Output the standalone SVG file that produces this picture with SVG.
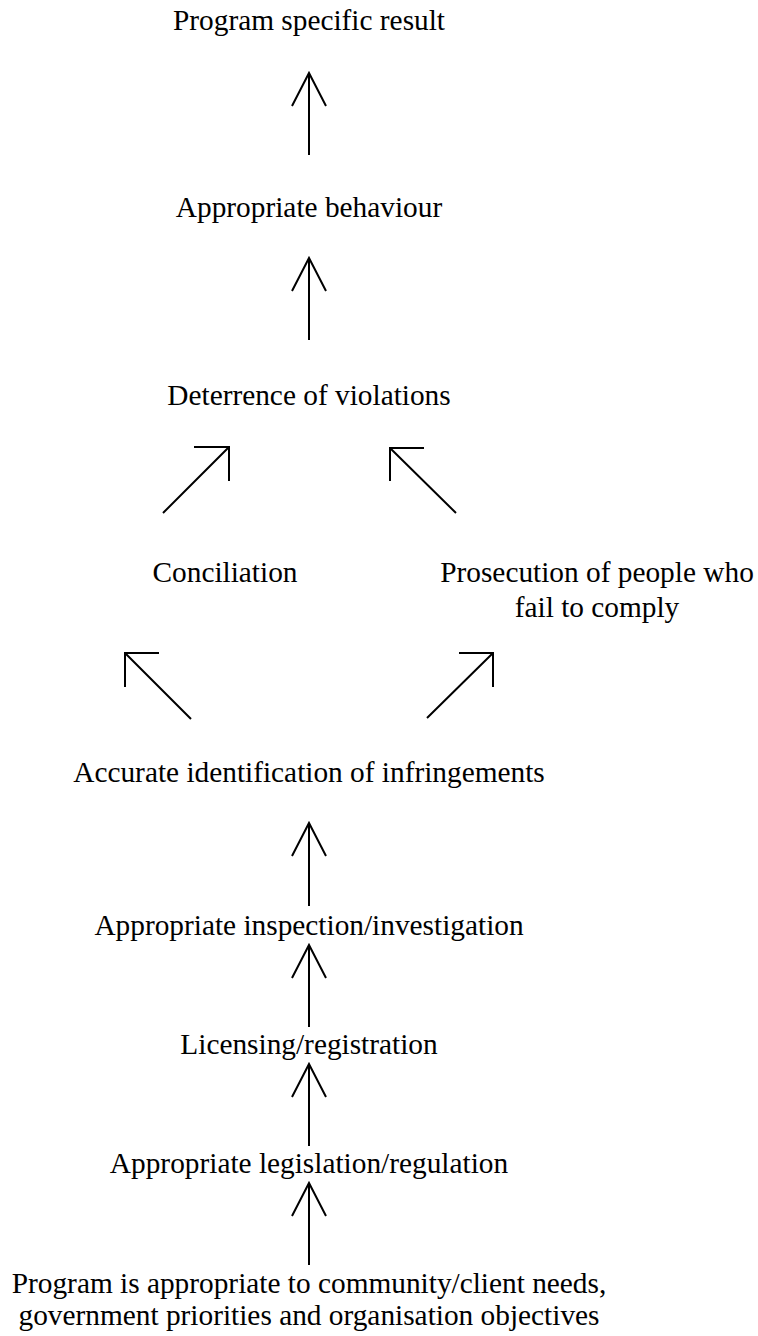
<svg xmlns="http://www.w3.org/2000/svg" width="758" height="1336" viewBox="0 0 758 1336">
<style>
text { font-family: "Liberation Serif", "Times New Roman", serif; font-size: 29.33px; fill: #000; text-anchor: middle; }
.arr { fill: none; stroke: #000; stroke-width: 2; stroke-linecap: butt; stroke-linejoin: miter; }
</style>
<rect width="758" height="1336" fill="#fff"/>
<g id="n-result"><text x="309" y="30">Program specific result</text></g>
<g id="n-behaviour"><text x="309" y="217">Appropriate behaviour</text></g>
<g id="n-deterrence"><text x="309" y="405">Deterrence of violations</text></g>
<g id="n-conciliation"><text x="225" y="582">Conciliation</text></g>
<g id="n-prosecution"><text x="597" y="582">Prosecution of people who</text><text x="597" y="617">fail to comply</text></g>
<g id="n-identification"><text x="309" y="782">Accurate identification of infringements</text></g>
<g id="n-inspection"><text x="309" y="935">Appropriate inspection/investigation</text></g>
<g id="n-licensing"><text x="309" y="1054">Licensing/registration</text></g>
<g id="n-legislation"><text x="309" y="1173">Appropriate legislation/regulation</text></g>
<g id="n-program"><text x="309" y="1293">Program is appropriate to community/client needs,</text><text x="309" y="1325">government priorities and organisation objectives</text></g>
<g id="connectors">
<path class="arr" d="M309 155 V73 M292 106 L309 73 L326 106"/>
<path class="arr" d="M309 340 V258 M292 291 L309 258 L326 291"/>
<path class="arr" d="M163 513 L229 447 M194 447 H229 V481"/>
<path class="arr" d="M456 513 L390 448 M424 448 H390 V481"/>
<path class="arr" d="M191 719 L125 653 M159 653 H125 V687"/>
<path class="arr" d="M427 718 L493 653 M459 653 H493 V687"/>
<path class="arr" d="M309 906 V823 M292 856 L309 823 L326 856"/>
<path class="arr" d="M309 1027 V945 M292 978 L309 945 L326 978"/>
<path class="arr" d="M309 1146 V1064 M292 1097 L309 1064 L326 1097"/>
<path class="arr" d="M309 1265 V1183 M292 1216 L309 1183 L326 1216"/>
</g>
</svg>
